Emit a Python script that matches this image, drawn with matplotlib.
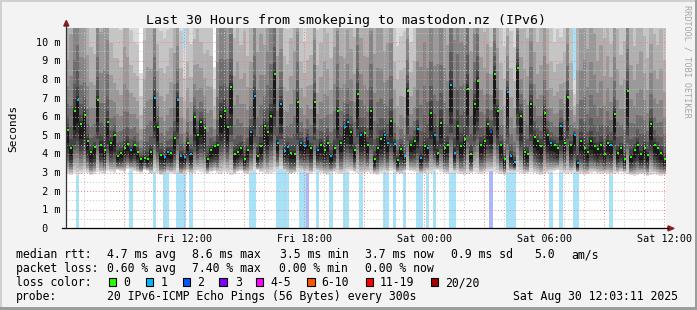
import numpy as np
import matplotlib
matplotlib.use("Agg")
import matplotlib.pyplot as plt
from matplotlib.patches import Rectangle, Polygon
from matplotlib.lines import Line2D

# ---- data (10 min slots, Fri 06:06 .. Sat 12:06) ----
median_ms = [
    5.3, 4.3, 6.3, 6.9, 5.6, 6.1, 4.7, 4.1, 4.35, 6.9,
    4.5, 4.2, 5.7, 4.6, 5.0, 3.9, 4.05, 4.3, 4.55, 4.2,
    4.45, 4.1, 3.73, 3.8, 3.7, 4.1, 7.0, 5.45, 3.96, 3.84,
    4.1, 4.05, 4.86, 6.9, 3.9, 3.84, 4.6, 4.0, 6.0, 5.0,
    5.7, 5.4, 3.73, 4.2, 4.4, 4.45, 6.06, 6.3, 5.45, 7.6,
    4.0, 4.1, 4.3, 3.75, 4.2, 5.16, 7.1, 3.9, 4.4, 5.5,
    5.16, 6.06, 8.3, 4.6, 6.7, 4.18, 4.35, 4.05, 4.0, 6.8,
    4.6, 4.4, 4.8, 4.3, 6.8, 4.2, 4.5, 4.2, 4.6, 3.9,
    4.3, 6.3, 4.6, 5.45, 5.7, 5.2, 4.2, 7.2, 5.0, 5.1,
    4.5, 6.3, 3.7, 4.3, 4.8, 5.0, 4.6, 5.75, 4.55, 3.65,
    4.25, 3.9, 7.4, 4.5, 4.7, 5.35, 3.8, 4.4, 4.3, 6.2,
    5.0, 4.05, 5.67, 4.3, 4.5, 7.7, 4.05, 5.5, 4.4, 4.8,
    7.5, 4.0, 6.7, 7.9, 4.5, 4.7, 5.6, 5.2, 8.3, 6.3,
    4.45, 3.7, 7.3, 3.9, 3.55, 8.6, 6.06, 4.1, 4.0, 6.7,
    4.9, 4.7, 4.4, 6.2, 5.0, 4.6, 4.5, 4.3, 5.5, 4.6,
    7.05, 4.45, 5.0, 3.5, 4.7, 4.3, 4.1, 4.7, 4.4, 4.25,
    4.5, 4.0, 4.6, 4.45, 6.15, 4.05, 4.3, 3.73, 7.37, 3.85,
    4.2, 4.5, 4.0, 4.3, 3.96, 5.6, 4.5, 4.3, 4.05, 3.73,
]
ping_min = [
    2.9, 2.85, 2.95, 2.8, 2.9, 3.0, 2.95, 2.85, 2.9, 3.0,
    2.95, 2.9, 3.05, 3.0, 2.95, 3.1, 3.05, 3.0, 3.15, 3.1,
    3.05, 3.0, 2.95, 3.1, 3.05, 2.9, 3.0, 2.95, 2.85, 2.9,
    3.0, 2.95, 2.9, 3.0, 2.85, 2.95, 3.0, 2.9, 2.95, 3.05,
    3.0, 2.95, 2.9, 3.0, 3.05, 2.95, 2.9, 3.0, 2.95, 2.85,
    2.9, 3.0, 3.05, 2.95, 2.9, 2.95, 3.05, 3.1, 3.0, 2.95,
    2.9, 2.95, 3.0, 3.1, 3.15, 3.05, 2.95, 2.9, 2.95, 3.0,
    3.05, 3.0, 2.95, 2.9, 3.0, 3.05, 2.95, 2.9, 2.85, 2.95,
    3.0, 2.95, 2.9, 2.95, 3.0, 3.05, 3.0, 2.95, 2.9, 2.95,
    3.0, 2.95, 2.9, 2.85, 2.95, 3.0, 2.95, 3.05, 3.0, 2.95,
    2.9, 3.0, 3.1, 3.05, 3.0, 2.95, 2.9, 2.95, 3.0, 2.95,
    3.05, 3.1, 3.0, 2.95, 2.9, 2.95, 3.0, 2.95, 2.9, 2.85,
    2.9, 2.95, 3.0, 2.95, 2.9, 2.95, 3.0, 3.05, 3.0, 2.95,
    2.9, 2.85, 2.9, 3.0, 3.05, 3.0, 2.95, 2.9, 2.95, 3.0,
    2.95, 2.9, 2.85, 2.9, 2.95, 3.0, 3.05, 3.1, 3.0, 2.95,
    2.9, 2.95, 3.0, 2.95, 2.9, 2.85, 2.9, 2.95, 3.0, 2.95,
    2.9, 2.95, 2.9, 2.85, 2.9, 2.95, 3.0, 2.95, 2.9, 2.85,
    2.8, 2.85, 2.9, 2.85, 2.8, 2.85, 2.9, 2.85, 2.8, 2.85,
]
ping_max = [
    16, 22, 28, 30, 22, 20, 18, 15, 14, 25,
    22, 24, 26, 15, 13, 14, 13, 20, 18, 13,
    12, 12, 8.3, 16, 18, 17, 24, 14, 13, 12.5,
    13, 15, 18, 20, 13, 9.6, 13, 12, 14, 16,
    14, 13, 15, 14, 8.6, 25, 30, 28, 22, 30,
    16, 18, 15, 17, 14, 16, 24, 20, 22, 18,
    25, 28, 30, 18, 20, 14, 13, 16, 20, 24,
    13, 12, 13, 14, 22, 13, 15, 18, 16, 14,
    20, 26, 18, 16, 20, 18, 16, 28, 20, 17,
    18, 26, 20, 24, 22, 18, 20, 25, 13, 12,
    12.5, 13, 20, 12, 13, 22, 26, 30, 24, 28,
    22, 26, 30, 24, 20, 35, 32, 36, 30, 28,
    35, 20, 24, 28, 18, 16, 18, 14, 22, 16,
    13, 12, 16, 13, 12, 24, 15, 17, 16, 22,
    18, 15, 17, 20, 16, 13, 12, 13, 12, 14,
    20, 13, 8.0, 18, 22, 26, 20, 24, 22, 18,
    20, 16, 18, 15, 20, 17, 14, 16, 25, 18,
    15, 17, 20, 16, 14, 18, 16, 15, 17, 14,
]
lost = [
    0, 0, 0, 1, 0, 0, 0, 0, 0, 0, 0, 0, 0, 0, 0, 0, 0, 0, 0, 1,
    0, 0, 0, 0, 0, 0, 1, 0, 0, 1, 1, 0, 0, 1, 1, 1, 0, 1, 0, 0,
    0, 0, 0, 0, 0, 0, 0, 0, 0, 0, 0, 0, 0, 0, 0, 1, 1, 0, 0, 0,
    0, 0, 0, 1, 1, 1, 1, 0, 0, 0, 1, 1, 2, 0, 0, 1, 0, 0, 0, 1,
    0, 0, 0, 1, 1, 0, 0, 0, 1, 0, 0, 0, 0, 0, 0, 1, 1, 0, 1, 0,
    0, 1, 0, 0, 0, 1, 1, 0, 1, 0, 1, 0, 0, 0, 0, 1, 1, 0, 0, 0,
    0, 0, 0, 0, 0, 0, 0, 2, 0, 0, 0, 0, 1, 1, 1, 0, 0, 0, 0, 0,
    0, 0, 0, 0, 0, 1, 0, 0, 1, 0, 0, 0, 1, 1, 0, 0, 0, 0, 0, 0,
    0, 0, 0, 1, 0, 0, 0, 0, 0, 0, 0, 0, 0, 0, 0, 0, 0, 0, 0, 0,
]

x_ticks = [12, 18, 24, 30, 36]
x_labels = ["Fri 12:00", "Fri 18:00", "Sat 00:00", "Sat 06:00", "Sat 12:00"]
y_ticks = [0, 1, 2, 3, 4, 5, 6, 7, 8, 9, 10]

loss_colors = ["#26ff00", "#00b8ff", "#0059ff", "#7e00ff", "#ff00ff", "#ff5500", "#ff0000", "#a10000"]
loss_names = ["0", "1", "2", "3", "4-5", "6-10", "11-19", "20/20"]
loss_bg = {1: (0.66, 0.89, 0.98), 2: (0.67, 0.72, 0.98)}

title = "Last 30 Hours from smokeping to mastodon.nz (IPv6)"

# ---- layout helpers (pixels) ----
W, H = 697, 310
MONO = "DejaVu Sans Mono"

fig = plt.figure(figsize=(W / 100, H / 100), dpi=100)
fig.patch.set_facecolor("#f3f3f3")


def fp(x, y):
    return x / W, 1 - y / H


def ftext(x, y, s, **kw):
    kw.setdefault("family", MONO)
    kw.setdefault("va", "baseline")
    fig.text(*fp(x, y), s, **kw)


X0, X1 = 66.3, 666.3
Y0, Y1 = 228.4, 28.0
PX_MS = 18.63
t0 = 6.1
step = 1 / 6
n = len(median_ms)
t1 = t0 + n * step
ymax = (Y0 - Y1) / PX_MS

ax = fig.add_axes([X0 / W, 1 - Y0 / H, (X1 - X0) / W, (Y0 - Y1) / H])
ax.set_xlim(t0, t1)
ax.set_ylim(0, ymax)
ax.axis("off")

# smoke image: bands around the median, darker towards the middle
rows = 1200
yy = (np.arange(rows) + 0.5) * ymax / rows
img = np.ones((rows, n, 3))
N = 10
for i in range(n):
    if lost[i]:
        img[:, i] = loss_bg[lost[i]]
    for k in range(N):
        frac = (N - k) / N
        lower = median_ms[i] - (median_ms[i] - ping_min[i]) * frac ** 0.5
        upper = median_ms[i] + (ping_max[i] - median_ms[i]) * frac ** 3
        g = 0.86 - 0.76 * k / (N - 1)
        sel = (yy >= lower) & (yy <= upper)
        img[sel, i] = g
ax.imshow(img, origin="lower", extent=(t0, t1, 0, ymax), aspect="auto",
          interpolation="nearest", zorder=0)

# grid
red = "#ee8080"
grey = "#c4c4c4"
for h in range(7, 37):
    ax.axvline(h, color=red if h % 3 == 0 else grey, lw=0.7, ls=(0, (1, 2)), zorder=3)
for v in np.arange(0.5, 10.6, 0.5):
    ax.axhline(v, color=red if v % 1 == 0 else grey, lw=0.7, ls=(0, (1, 2)), zorder=3)

# medians coloured by loss
tc = [t0 + (i + 0.5) * step for i in range(n)]
for lv in (0, 1, 2):
    xs = [tc[i] for i in range(n) if lost[i] == lv]
    ys = [median_ms[i] for i in range(n) if lost[i] == lv]
    ax.plot(xs, ys, ls="none", marker="s", ms=2.0, mew=0, color=loss_colors[lv], zorder=4)

# axes lines and arrows
fig.add_artist(Line2D([62 / W, 668 / W], [1 - Y0 / H] * 2, color="black", lw=0.9))
fig.add_artist(Line2D([X0 / W] * 2, [1 - Y0 / H, 1 - 25 / H], color="#333333", lw=0.9))
arrow = "#8b1c1c"
fig.add_artist(Polygon([fp(63.8, 26), fp(68.8, 26), fp(66.3, 20.5)], closed=True,
                       color=arrow, transform=fig.transFigure))
fig.add_artist(Polygon([fp(668, 225.9), fp(668, 230.9), fp(674, 228.4)], closed=True,
                       color=arrow, transform=fig.transFigure))

# tick labels
for v in y_ticks:
    lab = f"{v:2d} m" if v else " 0"
    ftext(36.2, Y0 - v * PX_MS + 3.6, lab, fontsize=7.3)
for t, lab in zip(x_ticks, x_labels):
    ftext(X0 + (t - t0) * 20, 242.3, lab, fontsize=7.3, ha="center")

ftext(13.5, 128, "Seconds", fontsize=8.0, rotation=90, ha="center", va="center")
ftext(687.5, 5, "RRDTOOL / TOBI OETIKER", fontsize=6.1, rotation=-90, ha="center",
      va="top", color="#a6a6a6")
ftext(346.5, 24, title, fontsize=9.5, ha="center")

# legend lines
LS = 8.3
rows_txt = [
    (258, [(16, "median rtt:"), (107, "4.7 ms avg"), (192.4, "8.6 ms max"),
           (279.6, "3.5 ms min"), (364.6, "3.7 ms now"), (451.3, "0.9 ms sd"),
           (534.6, "5.0"), (571.3, "am/s")]),
    (272, [(16, "packet loss:"), (107, "0.60 % avg"), (192.4, "7.40 % max"),
           (279, "0.00 % min"), (364.6, "0.00 % now")]),
    (286, [(16, "loss color:")]),
    (300, [(16, "probe:"), (107, "20 IPv6-ICMP Echo Pings (56 Bytes) every 300s"),
           (513, "Sat Aug 30 12:03:11 2025")]),
]
for yb, segs in rows_txt:
    for x, s in segs:
        ftext(x, yb, s, fontsize=LS)

box_x = [108.7, 146, 182.7, 219.3, 256, 307.3, 365.7, 431]
lab_x = [123, 161, 197, 235, 270.4, 321.7, 379.7, 444.7]
for bx, lx, c, name in zip(box_x, lab_x, loss_colors, loss_names):
    fig.add_artist(Rectangle(fp(bx, 286.3), 7.4 / W, 8.2 / H, transform=fig.transFigure,
                             facecolor=c, edgecolor="black", lw=0.8))
    ftext(lx, 286, name, fontsize=LS)

# 3d frame
fig.add_artist(Rectangle((0, 0), 2 / W, 1, transform=fig.transFigure, color="#d0d0d0", lw=0))
fig.add_artist(Rectangle((0, 1 - 2 / H), 1, 2 / H, transform=fig.transFigure, color="#d0d0d0", lw=0))
fig.add_artist(Rectangle((1 - 2 / W, 0), 2 / W, 1, transform=fig.transFigure, color="#9c9c9c", lw=0))
fig.add_artist(Rectangle((0, 0), 1, 3 / H, transform=fig.transFigure, color="#9c9c9c", lw=0))

fig.savefig("out.png", dpi=100, facecolor=fig.get_facecolor())
